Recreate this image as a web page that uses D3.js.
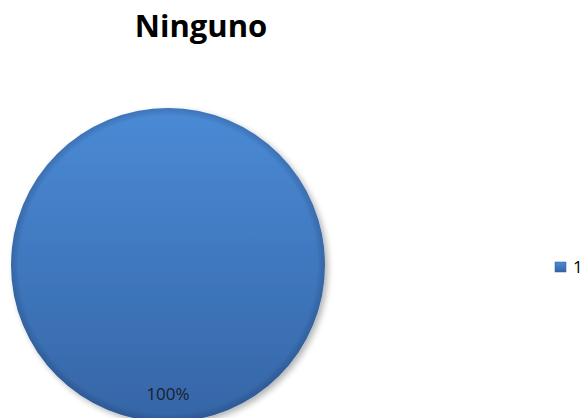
<!DOCTYPE html>
<html><head><meta charset="utf-8">
<script src="https://cdn.jsdelivr.net/npm/d3@7"></script>
<style>html,body{margin:0;padding:0;background:#fff;}svg{display:block;}</style>
</head><body>
<svg id="c" width="585" height="418"></svg>
<script>
const categories = ["1"];
const values = [100];
const title = "Ninguno";

const svg = d3.select("#c");
const W = 585, H = 418;
const cx = 168, cy = 265, R = 157;

const defs = svg.append("defs");
const lg = defs.append("linearGradient").attr("id","g").attr("x1",0).attr("y1",0).attr("x2",0).attr("y2",1);
lg.append("stop").attr("offset","0%").attr("stop-color","#4b8ad6");
lg.append("stop").attr("offset","100%").attr("stop-color","#3565a6");
const rg = defs.append("radialGradient").attr("id","rim").attr("cx","50%").attr("cy","50%").attr("r","50%");
rg.append("stop").attr("offset","95%").attr("stop-color","#000").attr("stop-opacity",0);
rg.append("stop").attr("offset","100%").attr("stop-color","#0a2550").attr("stop-opacity",0.2);
const f = defs.append("filter").attr("id","sh").attr("x","-20%").attr("y","-20%").attr("width","140%").attr("height","140%");
f.append("feGaussianBlur").attr("in","SourceAlpha").attr("stdDeviation",3);
f.append("feOffset").attr("dx",3).attr("dy",3).attr("result","b");
f.append("feComponentTransfer").append("feFuncA").attr("type","linear").attr("slope",0.3);
const m = f.append("feMerge"); m.append("feMergeNode"); m.append("feMergeNode").attr("in","SourceGraphic");

svg.append("text").attr("x",201).attr("y",37).attr("text-anchor","middle")
  .attr("font-family","'Open Sans', Lato, sans-serif").attr("font-weight","bold")
  .attr("font-size",31).attr("fill","#000").text(title);

const total = d3.sum(values);
const pie = d3.pie().sort(null).value(d=>d)(values);
const arc = d3.arc().innerRadius(0).outerRadius(R);
const g = svg.append("g").attr("transform",`translate(${cx},${cy})`);
const color = d3.scaleOrdinal().domain(categories).range(["url(#g)"]);
g.selectAll("path.s").data(pie).join("path").attr("class","s")
  .attr("d",arc).attr("fill",(d,i)=>color(categories[i])).attr("filter","url(#sh)");
g.selectAll("path.r").data(pie).join("path").attr("class","r")
  .attr("d",arc).attr("fill","url(#rim)");

const fmt = d3.format(".0%");
const labelArc = d3.arc().innerRadius(R*0.82).outerRadius(R*0.82);
g.selectAll("text.l").data(pie).join("text").attr("class","l")
  .attr("transform",d=>{
    const a = values.length===1 ? Math.PI : (d.startAngle+d.endAngle)/2;
    const p = labelArc.centroid({startAngle:a,endAngle:a});
    return `translate(${p[0]},${p[1]})`;
  })
  .attr("dy","0.35em").attr("text-anchor","middle")
  .attr("font-family","'Open Sans', sans-serif").attr("font-size",17).attr("fill","#1a2030")
  .text(d=>fmt(d.value/total));

const leg = svg.append("g").attr("transform","translate(555,262)");
const li = leg.selectAll("g").data(categories).join("g").attr("transform",(d,i)=>`translate(0,${i*20})`);
li.append("rect").attr("width",11).attr("height",10).attr("fill",d=>color(d)).attr("stroke","#2f5a94").attr("stroke-width",0.5);
li.append("text").attr("x",18).attr("y",10.5).attr("font-family","'Open Sans', sans-serif").attr("font-size",17).attr("fill","#000").text(d=>d);
</script>
</body></html>
